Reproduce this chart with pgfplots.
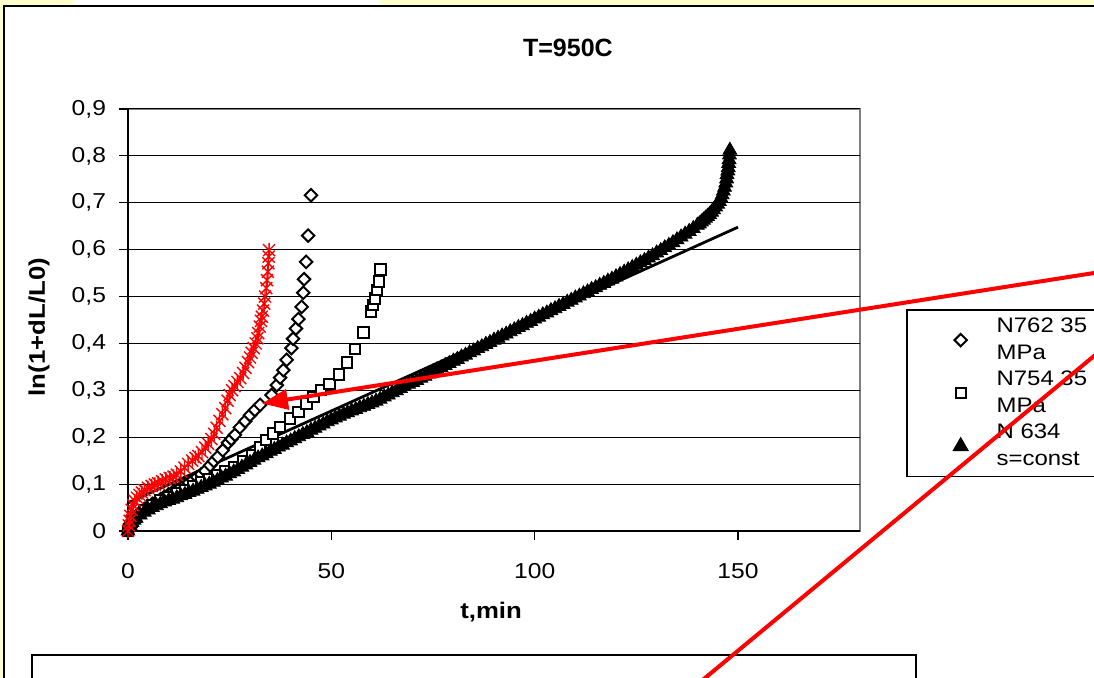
\documentclass[border=0pt]{standalone}
\usepackage{fontspec}
\setmainfont{Liberation Sans}[FakeStretch=1.14]
\newfontfamily\titlefont{Liberation Sans}
\usepackage{pgfplots}
\pgfplotsset{compat=1.18}
\usetikzlibrary{arrows.meta}

\definecolor{bgyellow}{RGB}{255,255,204}
\newcommand{\tickfont}{\fontsize{10.8bp}{13bp}\selectfont}
\newcommand{\labfont}{\fontsize{11.3bp}{13.5bp}\selectfont\bfseries}

% Excel-style asterisk: an x with a vertical bar through it
\pgfdeclareplotmark{xlstar}{%
  \pgfpathmoveto{\pgfqpoint{-\pgfplotmarksize}{-\pgfplotmarksize}}%
  \pgfpathlineto{\pgfqpoint{\pgfplotmarksize}{\pgfplotmarksize}}%
  \pgfpathmoveto{\pgfqpoint{-\pgfplotmarksize}{\pgfplotmarksize}}%
  \pgfpathlineto{\pgfqpoint{\pgfplotmarksize}{-\pgfplotmarksize}}%
  \pgfpathmoveto{\pgfqpoint{0pt}{-1.2\pgfplotmarksize}}%
  \pgfpathlineto{\pgfqpoint{0pt}{1.2\pgfplotmarksize}}%
  \pgfusepathqstroke}

\begin{document}
\begin{tikzpicture}
\path[use as bounding box] (0bp,0bp) rectangle (547bp,-339bp);
\clip (0bp,0bp) rectangle (547bp,-339bp);
% page in screen pixels (1 px = 0.5 bp), y pointing down
\begin{scope}[x=0.5bp,y=-0.5bp]
\fill[bgyellow] (0,0) rectangle (1094,678);
\fill[white] (73,0) rectangle (379,6);
\fill[white] (4,6) rectangle (1110,690);
\draw[line width=1bp] (4,690) -- (4,6) -- (1110,6);
\coordinate (ao) at (128,531);
\end{scope}

\begin{axis}[
    at={(ao)}, anchor=south west,
    scale only axis, width=366bp, height=211bp,
    xmin=0, xmax=180, ymin=0, ymax=0.9,
    xtick={0,50,100,150},
    ytick={0,0.1,...,0.9},
    axis x line*=bottom, axis y line*=left,
    axis line style={black, line width=0.8bp, -},
    axis background/.style={fill=white, draw=gray, line width=0.8bp},
    tick align=outside, major tick length=4.5bp,
    tick style={black, line width=0.6bp},
    ymajorgrids, major grid style={black, line width=0.5bp},
    clip=false,
    /pgf/number format/assume math mode=true,
    xticklabel style={yshift=-8bp},
    yticklabel style={xshift=-3bp, /pgf/number format/.cd, fixed, precision=1, use comma},
    ticklabel style={font=\tickfont},
    title={T=950C},
    every axis title shift=0pt,
    title style={font=\titlefont\fontsize{12.5bp}{14bp}\selectfont\bfseries,
        at={(axis description cs:0.601,1.145)}, anchor=center},
    xlabel={t,min},
    xlabel style={font=\labfont, at={(axis description cs:0.496,-0.192)}, anchor=center},
    ylabel={ln(1+dL/L0)},
    ylabel style={font=\labfont, at={(axis description cs:-0.1216,0.483)}, anchor=center},
    legend cell align=left,
    legend image code/.code={\draw[#1] plot coordinates {(0bp,0bp)};},
    legend style={at={(axis description cs:1.0628,0.526)}, anchor=north west,
        draw=black, line width=0.8bp, fill=white,
        font=\fontsize{10.5bp}{13.5bp}\selectfont,
        inner xsep=23.5bp, inner ysep=4bp,
        nodes={inner sep=0pt}, cells={align=left},
        column sep=14.5bp, row sep=4.2bp},
]

% N762 35 MPa
\addplot[only marks, mark=square*, mark size=2.2bp,
    mark options={rotate=45, fill=white, draw=black, line width=1bp}]
    coordinates {
(0,0) (0.5,0.015) (1,0.022) (2,0.032) (3,0.040) (4,0.047) (5,0.053) (6,0.058)
(7,0.063) (8,0.068) (9,0.073) (10,0.078) (11,0.083) (12,0.088) (13,0.093)
(14,0.098) (15,0.103) (16,0.109) (17,0.115) (18,0.121) (19,0.128) (20.2,0.140)
(21.1,0.149) (22.1,0.158) (23.3,0.172) (24.6,0.188) (25.4,0.196) (26.3,0.205)
(27.5,0.221) (28.8,0.234) (30,0.247) (31.2,0.258) (32.5,0.269) (35.3,0.290)
(36.6,0.311) (37.4,0.327) (38.2,0.343) (39.0,0.365) (40.2,0.390) (40.6,0.410)
(41.3,0.432) (41.9,0.452) (42.7,0.478) (43.1,0.508) (43.3,0.537) (43.8,0.574)
(44.3,0.630) (45.0,0.716)
    };
\addlegendentry{N762 35\\MPa}

% N754 35 MPa
\addplot[only marks, mark=square*, mark size=2.6bp,
    mark options={fill=white, draw=black, line width=1bp}]
    coordinates {
(0,0) (1,0.020) (2,0.030) (4,0.045) (6,0.055) (8,0.065) (10,0.073) (12,0.080)
(14,0.088) (16,0.095) (18,0.103) (20,0.110) (22,0.118) (24,0.127) (26,0.136)
(28.3,0.148) (30.5,0.162) (32.5,0.178) (34,0.194) (35.7,0.208) (37.4,0.222)
(39.8,0.240) (41.9,0.254) (43.9,0.272) (45.6,0.286) (47.4,0.301) (49.5,0.313)
(51.9,0.334) (53.8,0.359) (55.8,0.388) (57.9,0.423) (59.7,0.468) (60.3,0.482)
(60.7,0.496) (61.2,0.514) (61.7,0.532) (62.1,0.558)
    };
\addlegendentry{N754 35\\MPa}

% N 634 s=const
\addplot[only marks, mark=triangle*, mark size=4bp,
    mark options={fill=black, draw=black}]
    coordinates {
(0,0) (0.5,0.012) (1,0.018) (1.5,0.023) (2,0.027) (3,0.034) (4,0.040) (5,0.045)
(6,0.050) (7,0.054) (8,0.058) (9,0.062) (10,0.065) (11,0.068) (12,0.071)
(13,0.075) (14,0.078) (15,0.082) (16,0.085) (17,0.089) (18,0.093) (19,0.096)
(20,0.100) (21,0.104) (22,0.108) (23,0.113) (24,0.117) (25,0.122) (26,0.126)
(27,0.131) (28,0.136) (29,0.141) (30,0.146) (31,0.151) (32,0.156) (33,0.160)
(34,0.165) (35,0.170) (36,0.174) (37,0.179) (38,0.183) (39,0.188) (40,0.192)
(41,0.197) (42,0.201) (43,0.206) (44,0.210) (45,0.215) (46,0.219) (47,0.224)
(48,0.228) (49,0.233) (50,0.237) (51,0.241) (52,0.245) (53,0.249) (54,0.252)
(55,0.256) (56,0.259) (57,0.263) (58,0.266) (59,0.270) (60,0.273) (61,0.277)
(62,0.281) (63,0.286) (64,0.290) (65,0.295) (66,0.299) (67,0.304) (68,0.308)
(69,0.313) (70,0.317) (71,0.321) (72,0.326) (73,0.330) (74,0.335) (75,0.339)
(76,0.344) (77,0.348) (78,0.353) (79,0.357) (80,0.362) (81,0.366) (82,0.371)
(83,0.375) (84,0.380) (85,0.384) (86,0.389) (87,0.393) (88,0.398) (89,0.402)
(90,0.407) (91,0.411) (92,0.416) (93,0.420) (94,0.425) (95,0.429) (96,0.434)
(97,0.438) (98,0.443) (99,0.447) (100,0.452) (101,0.456) (102,0.461) (103,0.465)
(104,0.470) (105,0.474) (106,0.479) (107,0.483) (108,0.488) (109,0.492)
(110,0.497) (111,0.501) (112,0.506) (113,0.510) (114,0.515) (115,0.519)
(116,0.524) (117,0.528) (118,0.533) (119,0.537) (120,0.542) (121,0.547)
(122,0.552) (123,0.557) (124,0.562) (125,0.567) (126,0.572) (127,0.577)
(128,0.582) (129,0.587) (130,0.593) (131,0.598) (132,0.604) (133,0.609)
(134,0.615) (135,0.621) (136,0.627) (137,0.633) (138,0.639) (139,0.645)
(140,0.652) (140.5,0.655) (141,0.659) (141.5,0.663) (142,0.667) (142.5,0.671)
(143,0.675) (143.5,0.680) (144,0.685) (144.5,0.691) (145,0.697) (145.4,0.703)
(145.8,0.710) (146.1,0.717) (146.4,0.725) (146.7,0.733) (147,0.742)
(147.2,0.751) (147.3,0.760) (147.5,0.768) (147.6,0.775) (147.7,0.784)
(147.8,0.792) (147.9,0.802) (148,0.812)
    };
\addlegendentry{N 634\\s=const}

% red series, not in the legend
\addplot[only marks, mark=xlstar, mark size=3bp, red,
    mark options={line width=0.7bp}, forget plot]
    coordinates {
(0,0) (0.2,0.012) (0.4,0.022) (0.6,0.032) (0.9,0.045) (1.3,0.055) (1.7,0.064)
(2.2,0.071) (2.8,0.077) (3.4,0.082) (4.1,0.087) (4.9,0.092) (5.8,0.096)
(6.6,0.099) (7.4,0.102) (8.4,0.106) (9.3,0.110) (10.3,0.113) (11.2,0.116)
(12.0,0.120) (13.0,0.127) (13.9,0.135) (14.8,0.143) (15.8,0.150) (16.6,0.156)
(17.3,0.160) (18.2,0.168) (19.0,0.178) (19.7,0.186) (20.5,0.196) (21.2,0.207)
(21.8,0.220) (22.5,0.235) (23.2,0.249) (23.9,0.262) (24.5,0.278) (25.0,0.290)
(25.6,0.300) (26.2,0.309) (26.9,0.318) (27.6,0.326) (28.3,0.337) (28.9,0.348)
(29.5,0.360) (30.0,0.370) (30.4,0.380) (30.9,0.390) (31.4,0.400) (31.8,0.411)
(32.0,0.422) (32.4,0.436) (32.7,0.448) (32.9,0.457) (33.2,0.470) (33.5,0.485)
(33.7,0.500) (34.0,0.518) (34.2,0.535) (34.4,0.553) (34.5,0.571) (34.6,0.585)
(34.7,0.599)
    };

% linear trend of N 634
\addplot[black, line width=1.4bp, forget plot] coordinates {(0,0.060) (150,0.648)};

\end{axis}

\begin{scope}[x=0.5bp,y=-0.5bp]
\draw[fill=white, line width=0.8bp] (32,655) rectangle (916,700);
\draw[red, line width=2bp, -{Triangle[length=13bp, width=10bp]}]
    (1110,270.5) -- (262,403.5);
\draw[red, line width=2bp] (1110,342.8) -- (690,690.5);
\end{scope}
\end{tikzpicture}
\end{document}
